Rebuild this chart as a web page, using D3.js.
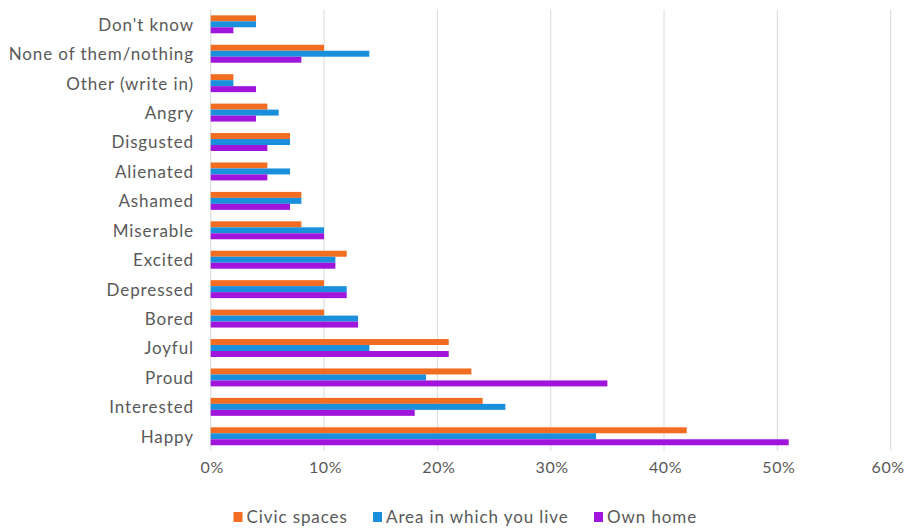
<!DOCTYPE html>
<html>
<head>
<meta charset="utf-8">
<script src="https://cdn.jsdelivr.net/npm/d3@7"></script>
<style>
  html, body { margin: 0; padding: 0; background: #fff; }
  svg { display: block; }
  text { font-family: Lato, "Open Sans", sans-serif; fill: #595959; letter-spacing: 0.9px; }
</style>
</head>
<body>
<svg id="chart" width="907" height="528"></svg>
<script>
const categories = ["Don't know", "None of them/nothing", "Other (write in)", "Angry", "Disgusted",
  "Alienated", "Ashamed", "Miserable", "Excited", "Depressed", "Bored", "Joyful", "Proud", "Interested", "Happy"];
const seriesNames = ["Civic spaces", "Area in which you live", "Own home"];
const civicSpaces = [4, 10, 2, 5, 7, 5, 8, 8, 12, 10, 10, 21, 23, 24, 42];
const areaYouLive = [4, 14, 2, 6, 7, 7, 8, 10, 11, 12, 13, 14, 19, 26, 34];
const ownHome     = [2, 8, 4, 4, 5, 5, 7, 10, 11, 12, 13, 21, 35, 18, 51];
const xTicks = [0, 10, 20, 30, 40, 50, 60];
const colors = ["#F26C22", "#1A8FDC", "#A015DC"];

const seriesValues = [civicSpaces, areaYouLive, ownHome];
const svg = d3.select("#chart");

const x = d3.scaleLinear().domain([0, 60]).range([210.7, 890.7]);
const y = d3.scaleBand().domain(categories).range([9.6, 451]).paddingInner(0.39).paddingOuter(0.195);
const ySub = d3.scaleBand().domain(seriesNames).range([0, y.bandwidth()]);

// gridlines
svg.append("g").selectAll("line").data(xTicks).join("line")
  .attr("x1", d => x(d)).attr("x2", d => x(d))
  .attr("y1", 9.6).attr("y2", 451)
  .attr("stroke", "#d9d9d9").attr("stroke-width", 1);

// bars
const groups = svg.append("g").selectAll("g").data(categories).join("g")
  .attr("transform", c => `translate(0,${y(c)})`);
groups.selectAll("rect").data((c, i) => seriesNames.map((s, j) => ({ s, v: seriesValues[j][i], j })))
  .join("rect")
  .attr("x", x(0))
  .attr("y", d => ySub(d.s))
  .attr("width", d => x(d.v) - x(0))
  .attr("height", ySub.bandwidth())
  .attr("fill", d => colors[d.j]);

// y axis labels
const yAxis = d3.axisLeft(y).tickSize(0).tickPadding(0);
const gy = svg.append("g").attr("transform", `translate(194,0)`).call(yAxis);
gy.select(".domain").remove();
gy.selectAll("text").style("font-size", "17px").style("font-family", "Lato, sans-serif").attr("fill", "#595959").attr("dy", "0.38em");

// x axis labels
const xAxis = d3.axisBottom(x).tickValues(xTicks).tickFormat(d => d + "%").tickSize(0).tickPadding(0);
const gx = svg.append("g").attr("transform", `translate(1,468)`).call(xAxis);
gx.select(".domain").remove();
gx.selectAll("text").style("font-size", "16px").style("font-family", "Lato, sans-serif")
  .style("letter-spacing", "0.6px")
  .attr("fill", "#595959").attr("dy", "0.32em")
  .attr("dx", d => d === 60 ? -4 : 0);

// legend
const legendX = [233.5, 373, 594];
const lg = svg.append("g").selectAll("g").data(seriesNames).join("g")
  .attr("transform", (d, i) => `translate(${legendX[i]},517)`);
lg.append("rect").attr("x", 0).attr("y", -5).attr("width", 9).attr("height", 10)
  .attr("fill", (d, i) => colors[i]);
lg.append("text").attr("x", 13).attr("y", 0).attr("dy", "0.34em")
  .style("font-size", "17px").text(d => d);
</script>
</body>
</html>
